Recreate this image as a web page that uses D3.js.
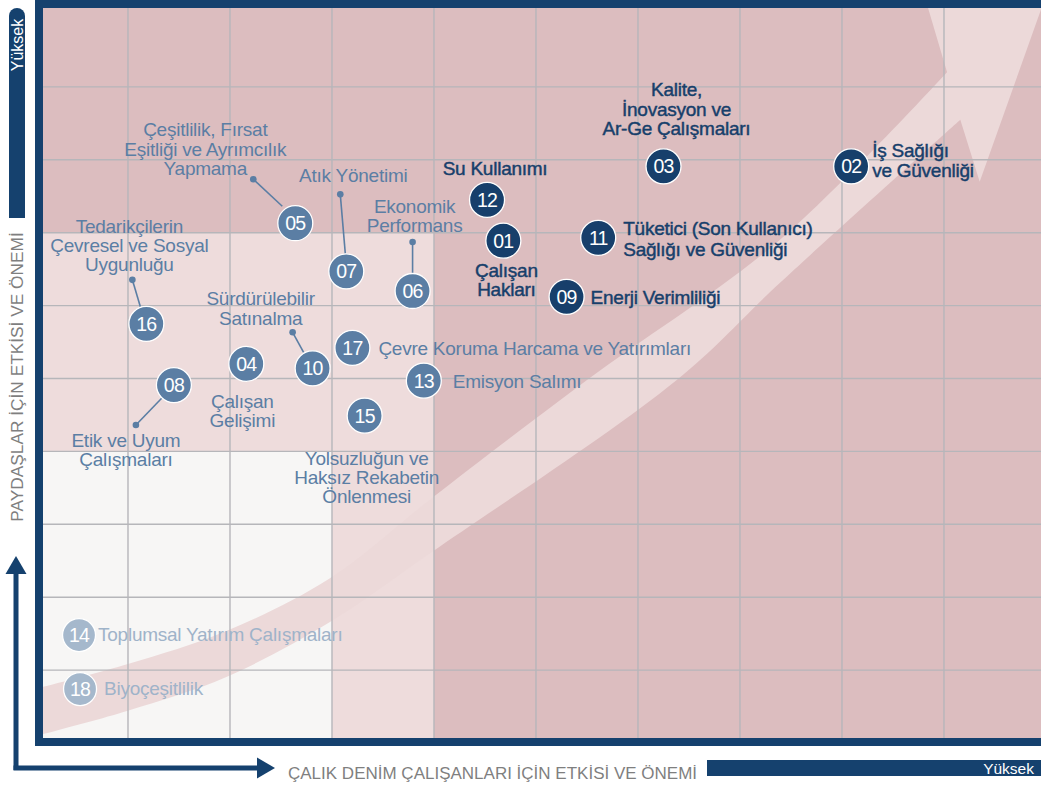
<!DOCTYPE html>
<html><head><meta charset="utf-8">
<script src="https://cdn.jsdelivr.net/npm/d3@7"></script>
<style>html,body{margin:0;padding:0;background:#fff;}svg{display:block;font-family:"Liberation Sans",Arial,Helvetica,sans-serif;}</style>
</head><body><svg id="chart" width="1041" height="785"></svg>
<script>
// ---------------- DATA ----------------
const topicIds = ["01","02","03","09","11","12","05","07","06","16","04","10","17","13","15","08","14","18"];
const topicNames = [
  "Çalışan\nHakları",
  "İş Sağlığı\nve Güvenliği",
  "Kalite,\nİnovasyon ve\nAr-Ge Çalışmaları",
  "Enerji Verimliliği",
  "Tüketici (Son Kullanıcı)\nSağlığı ve Güvenliği",
  "Su Kullanımı",
  "Çeşitlilik, Fırsat\nEşitliği ve Ayrımcılık\nYapmama",
  "Atık Yönetimi",
  "Ekonomik\nPerformans",
  "Tedarikçilerin\nÇevresel ve Sosyal\nUygunluğu",
  "Çalışan\nGelişimi",
  "Sürdürülebilir\nSatınalma",
  "Çevre Koruma Harcama ve Yatırımları",
  "Emisyon Salımı",
  "Yolsuzluğun ve\nHaksız Rekabetin\nÖnlenmesi",
  "Etik ve Uyum\nÇalışmaları",
  "Toplumsal Yatırım Çalışmaları",
  "Biyoçeşitlilik"
];
// x: impact for Çalık Denim employees (0-10), y: importance for stakeholders (0-10)
const impactEmployees   = [4.68,8.09,6.25,5.30,5.61,4.52,2.64,3.14,3.79,1.18,2.16,2.81,3.20,3.90,3.32,1.45,0.52,0.53];
const impactStakeholders= [6.89,7.91,7.91,6.12,6.93,7.45,7.13,6.47,6.20,5.75,5.20,5.14,5.42,4.97,4.49,4.91,1.48,0.74];
const priorityLevel = ["high","high","high","high","high","high","mid","mid","mid","mid","mid","mid","mid","mid","mid","mid","low","low"];
const gridTicks = [1,2,3,4,5,6,7,8,9];
const zoneLimits = [ {name:"all", x:10, y:10}, {name:"medium", x:4, y:7}, {name:"low", x:3, y:4} ];
const xAxisTitle = "ÇALIK DENİM ÇALIŞANLARI İÇİN ETKİSİ VE ÖNEMİ";
const yAxisTitle = "PAYDAŞLAR İÇİN ETKİSİ VE ÖNEMİ";
const highText = "Yüksek";
// trend arrow outline (data units)
const arrowUpperEdge = [[-0.06,0.69],[0.99,1.08],[1.97,1.54],[2.98,2.26],[3.98,3.36],[5.50,4.98],[7.39,6.90],[9.03,9.20]];
const arrowHeadPts   = [[8.65,11.0],[10.19,11.0],[9.35,7.70],[9.16,8.55]];
const arrowLowerEdge = [[9.16,8.55],[7.39,6.31],[6.38,4.98],[3.98,2.62],[2.98,1.66],[1.97,0.91],[0.99,0.44],[-0.06,0.04]];

// ---------------- LAYOUT ----------------
const W = 1041, H = 785;
const plot = {left:43, top:8, right:1041, bottom:738};
const x = d3.scaleLinear().domain([0,10]).range([26,1046]);
const y = d3.scaleLinear().domain([0,10]).range([743,14]);
const colors = {
  frame:"#15416e", dark:"#dcbdbf", mid:"#eedcdc", light:"#f7f6f5", arrow:"#ecd9d9", grid:"#b6b6ba",
  high:"#173f6b", midB:"#5b7ea4", low:"#a5b8cc", highT:"#173f6b", midT:"#5b7ea4", lowT:"#9fb3c9", title:"#7f7f7f"
};
const zoneFill = {all:colors.dark, medium:colors.mid, low:colors.light};
const labelLayout = {
  "01":{a:"middle",dx:3,dy:[36,55]},
  "02":{a:"start",dx:21,dy:[-9,11]},
  "03":{a:"middle",dx:13,dy:[-70,-50,-31]},
  "09":{a:"start",dx:24,dy:[7]},
  "11":{a:"start",dx:25,dy:[-3,18]},
  "12":{a:"middle",dx:8,dy:[-25]},
  "05":{a:"middle",dx:-90,dy:[-87,-67,-48],dot:[-42,-44],end:[-13,-17]},
  "07":{a:"middle",dx:7,dy:[-89],dot:[-6,-77],end:[-1,-18]},
  "06":{a:"middle",dx:2,dy:[-78,-59],dot:[0,-49],end:[0,-18]},
  "16":{a:"middle",dx:-17,dy:[-91,-72,-53],dot:[-14,-44],end:[-6,-17]},
  "04":{a:"middle",dx:-4,dy:[44,63]},
  "10":{a:"middle",dx:-52,dy:[-63,-43],dot:[-20,-36],end:[-9,-16]},
  "17":{a:"start",dx:26,dy:[7]},
  "13":{a:"start",dx:29,dy:[7]},
  "15":{a:"middle",dx:2,dy:[49,68,87]},
  "08":{a:"middle",dx:-48,dy:[62,81],dot:[-38,40],end:[-12,13]},
  "14":{a:"start",dx:19,dy:[6]},
  "18":{a:"start",dx:24,dy:[6]}
};

const topics = topicIds.map((id,i)=>({id, name:topicNames[i], xv:impactEmployees[i], yv:impactStakeholders[i], level:priorityLevel[i]}));

const svg = d3.select("#chart");
const defs = svg.append("defs");
defs.append("clipPath").attr("id","plotClip").append("rect")
  .attr("x",plot.left).attr("y",plot.top).attr("width",plot.right-plot.left).attr("height",plot.bottom-plot.top);

const gPlot = svg.append("g").attr("clip-path","url(#plotClip)");
// zones
gPlot.selectAll("rect.zone").data(zoneLimits).join("rect").attr("class","zone")
  .attr("x",x(-1)).attr("y",d=>y(d.name==="all"?11:d.y))
  .attr("width",d=>(d.name==="all"?x(11):x(d.x))-x(-1))
  .attr("height",d=>y(-1)-(d.name==="all"?y(11):y(d.y)))
  .attr("fill",d=>zoneFill[d.name]);

// trend arrow
const lineGen = d3.line().x(d=>x(d[0])).y(d=>y(d[1])).curve(d3.curveCatmullRom.alpha(0.5));
const upperPath = lineGen(arrowUpperEdge);
const lowerPath = lineGen(arrowLowerEdge).replace(/^M/,"L");
const headPath = arrowHeadPts.map(p=>"L"+x(p[0])+","+y(p[1])).join("");
gPlot.append("path").attr("d",upperPath+headPath+lowerPath+"Z").attr("fill",colors.arrow);

// grid
gPlot.selectAll("line.gx").data(gridTicks).join("line").attr("class","gx")
  .attr("x1",d=>x(d)).attr("x2",d=>x(d)).attr("y1",plot.top).attr("y2",plot.bottom)
  .attr("stroke",colors.grid).attr("stroke-width",1.4);
gPlot.selectAll("line.gy").data(gridTicks).join("line").attr("class","gy")
  .attr("y1",d=>y(d)).attr("y2",d=>y(d)).attr("x1",plot.left).attr("x2",plot.right)
  .attr("stroke",colors.grid).attr("stroke-width",1.4);

// frame
const frame = svg.append("g").attr("fill",colors.frame);
frame.append("rect").attr("x",35).attr("y",0).attr("width",8).attr("height",746);
frame.append("rect").attr("x",35).attr("y",0).attr("width",W-35).attr("height",8);
frame.append("rect").attr("x",35).attr("y",738).attr("width",W-35).attr("height",8);

// leaders
const gL = svg.append("g");
topics.forEach(t=>{
  const L = labelLayout[t.id]; if(!L.dot) return;
  const cx = x(t.xv), cy = y(t.yv);
  gL.append("line").attr("x1",cx+L.dot[0]).attr("y1",cy+L.dot[1]).attr("x2",cx+L.end[0]).attr("y2",cy+L.end[1])
    .attr("stroke",colors.midB).attr("stroke-width",1.6);
  gL.append("circle").attr("cx",cx+L.dot[0]).attr("cy",cy+L.dot[1]).attr("r",3.3).attr("fill",colors.midB);
});

// bubbles
const bubbleFill = {high:colors.high, mid:colors.midB, low:colors.low};
const textFill = {high:colors.highT, mid:colors.midT, low:colors.lowT};
const gB = svg.append("g");
const node = gB.selectAll("g.node").data(topics).join("g").attr("class","node")
  .attr("transform",d=>`translate(${x(d.xv)},${y(d.yv)})`);
node.append("circle").attr("r",d=>d.level==="low"?16.5:17.5).attr("fill",d=>bubbleFill[d.level])
  .attr("stroke","#ffffff").attr("stroke-width",1.3);
node.append("text").text(d=>d.id).attr("text-anchor","middle").attr("y",7)
  .attr("fill","#ffffff").attr("font-size",19.5).attr("letter-spacing",-0.8);

// labels
node.each(function(d){
  const L = labelLayout[d.id];
  const g = d3.select(this);
  const lines = d.name.split("\n");
  const t = g.append("text").attr("text-anchor",L.a).attr("font-size",19).attr("letter-spacing",-0.25)
    .attr("fill",textFill[d.level]);
  if(d.level==="high"){ t.attr("stroke",textFill[d.level]).attr("stroke-width",0.45); }
  lines.forEach((ln,i)=>{
    t.append("tspan").attr("x",L.dx).attr("y",L.dy[i]).text(ln);
  });
});

// y axis side: "Yüksek" bar
svg.append("rect").attr("x",9).attr("y",8).attr("width",16).attr("height",210).attr("rx",8).attr("fill",colors.frame);
svg.append("rect").attr("x",9).attr("y",30).attr("width",16).attr("height",188).attr("fill",colors.frame);
svg.append("text").text(highText).attr("transform","translate(17,45) rotate(-90)")
  .attr("text-anchor","middle").attr("dy","0.36em").attr("fill","#ffffff").attr("font-size",16);
svg.append("text").text(yAxisTitle).attr("transform","translate(17,377) rotate(-90)")
  .attr("text-anchor","middle").attr("dy","0.36em").attr("fill",colors.title).attr("font-size",17.3);

// axis arrows
const ax = svg.append("g").attr("fill",colors.frame);
ax.append("rect").attr("x",13.5).attr("y",570).attr("width",5).attr("height",200);
ax.append("rect").attr("x",13.5).attr("y",765.5).attr("width",246).attr("height",5);
ax.append("path").attr("d","M16,556L5.5,574L26.5,574Z");
ax.append("path").attr("d","M257,757.5L275,768L257,778.5Z");

svg.append("text").text(xAxisTitle).attr("x",288).attr("y",779).attr("fill",colors.title).attr("font-size",17);
svg.append("rect").attr("x",707).attr("y",760).attr("width",W-707).attr("height",16).attr("fill",colors.frame);
svg.append("text").text(highText).attr("x",1034).attr("y",773.5).attr("text-anchor","end").attr("fill","#ffffff").attr("font-size",15.5);
</script></body></html>
